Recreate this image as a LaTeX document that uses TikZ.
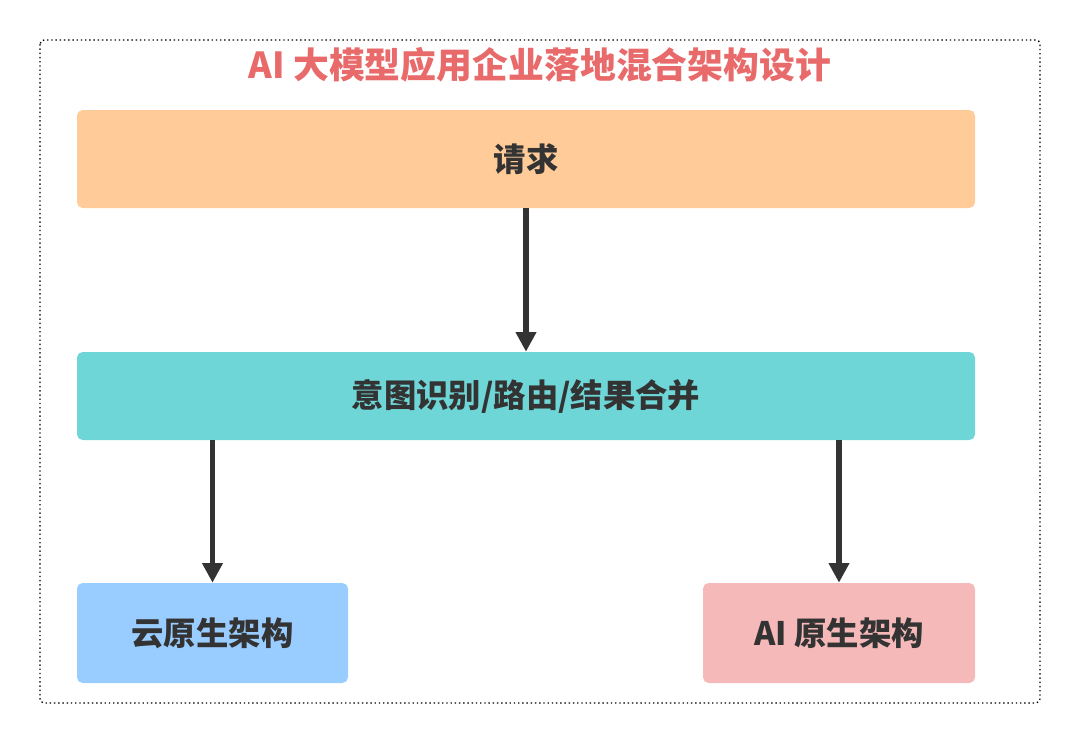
\documentclass[tikz,border=0pt]{standalone}
\usepackage{fontspec}
\setmainfont{Noto Sans CJK SC}
\usetikzlibrary{positioning,arrows.meta}
\definecolor{titlered}{HTML}{E96A6A}
\definecolor{reqorange}{HTML}{FFCC99}
\definecolor{midcyan}{HTML}{6ED6D6}
\definecolor{cloudblue}{HTML}{99CCFF}
\definecolor{aipink}{HTML}{F4B9B8}
\definecolor{arrowgray}{HTML}{333333}
\begin{document}
\begin{tikzpicture}[x=0.025cm,y=-0.025cm,
    box/.style={draw=none, rounded corners=4pt, font=\fontsize{23}{27}\selectfont\bfseries, text=arrowgray},
    flow/.style={-{Triangle[length=14pt,width=14pt]}, line width=3.8pt, draw=arrowgray}]
        % frame and title
        \useasboundingbox (0,0) rectangle (1080,743);
        \draw[dotted, line width=1pt, rounded corners=3pt] (40,40) rectangle (1040,703);
        \node[text=titlered, font=\fontsize{25.5}{30}\selectfont\bfseries] (title) at (540,65) {AI 大模型应用企业落地混合架构设计};

        % boxes
        \node[box, fill=reqorange, minimum width=898*0.025cm, minimum height=98*0.025cm] (req) at (526,159) {请求};
        \node[box, fill=midcyan, minimum width=898*0.025cm, minimum height=88*0.025cm] (mid) at (526,396) {意图识别/路由/结果合并};
        \node[box, fill=cloudblue, minimum width=271*0.025cm, minimum height=100*0.025cm] (cloud) at (212.5,633) {云原生架构};
        \node[box, fill=aipink, minimum width=272*0.025cm, minimum height=100*0.025cm] (ainative) at (839,633) {AI 原生架构};

        % arrows
        \draw[flow] (req.south) -- (mid.north);
        \draw[flow] (mid.south -| cloud.north) -- (cloud.north);
        \draw[flow] (mid.south -| ainative.north) -- (ainative.north);
\end{tikzpicture}
\end{document}
